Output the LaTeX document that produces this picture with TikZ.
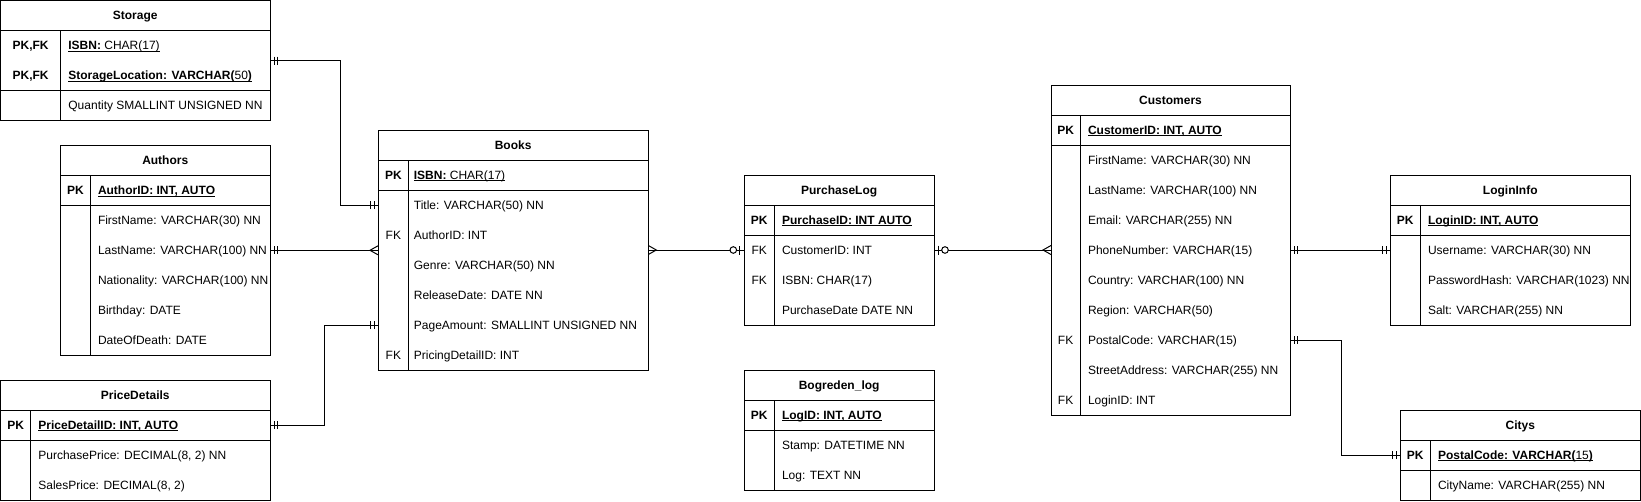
\documentclass[tikz,border=0pt]{standalone}
\usepackage{fontspec}
\setmainfont{Liberation Sans}
\newcommand{\ulin}[1]{\setbox0=\hbox{#1}\rlap{\rule[-1.8pt]{\wd0}{0.8pt}}\box0}
\newcommand{\ertable}[8]{%
  \def\erx{#2}\def\ery{#3}\def\erkw{#5}%
  \pgfmathsetmacro{\erH}{30*(1+#7+#8)}%
  \node[tbl, minimum width=#4pt, minimum height=\erH pt] (#1) at (#2,#3) {};
  \node[ttl] (#1-title) at ({#2+#4/2},{#3+15}) {#6};
  \draw[tline] (#2,{#3+30}) -- ++(#4,0);
  \draw[tline] (#2,{#3+30+30*#7}) -- ++(#4,0);
  \draw[tline] ({#2+#5},{#3+30}) -- ++(0,{\erH-30});
}
\newcommand{\errow}[4]{%
  \if\relax\detokenize{#3}\relax\else
    \node[keyt] (#1-key) at ({\erx+\erkw/2},{\ery+30*#2+15}) {#3};
  \fi
  \node[attr] (#1) at ({\erx+\erkw+\eroff},{\ery+30*#2+15}) {#4};
}
\tikzset{
  tbl/.style={draw, line width=1pt, inner sep=0pt, outer sep=0pt, anchor=north west},
  tline/.style={line width=1pt},
  ttl/.style={font=\fontsize{12}{14}\selectfont\bfseries, inner sep=0pt, text height=8.6pt, text depth=0pt},
  keyt/.style={font=\fontsize{12}{14}\selectfont, inner sep=0pt, text height=8.6pt, text depth=0pt},
  attr/.style={font=\fontsize{12}{14}\selectfont, inner sep=0pt, text height=8.6pt, text depth=0pt, anchor=west},
  rel/.style={line width=1pt},
  mandone/.pic={\draw[line width=1pt] (4,-4) -- (4,4) (7.5,-4) -- (7.5,4);},
  zeroone/.pic={\draw[line width=1pt] (4.5,-4.5) -- (4.5,4.5); \draw[line width=1pt, fill=white] (11,0) circle (3.3pt);},
  crowfoot/.pic={\draw[line width=1pt] (0,-4.5) -- (8,0) -- (0,4.5);},
}
\begin{document}
\begin{tikzpicture}[x=1pt,y=-1pt]
\useasboundingbox (0,0) rectangle (1641,501);
\def\eroff{7.5}
% Storage
\ertable{storage}{0.5}{0.5}{269.5}{60.2}{Storage}{2}{1}
\errow{st-isbn}{1}{\textbf{PK,FK}}{\ulin{\textbf{ISBN:} CHAR(17)}}
\errow{st-loc}{2}{\textbf{PK,FK}}{\ulin{\textbf{StorageLocation: VARCHAR(}50\textbf{)}}}
\errow{st-qty}{3}{}{Quantity SMALLINT UNSIGNED NN}
% Authors
\ertable{authors}{60.5}{145.3}{209.5}{29.8}{Authors}{1}{5}
\errow{au-id}{1}{\textbf{PK}}{\ulin{\textbf{AuthorID: INT, AUTO}}}
\errow{au-first}{2}{}{FirstName: VARCHAR(30) NN}
\errow{au-last}{3}{}{LastName: VARCHAR(100) NN}
\errow{au-nat}{4}{}{Nationality: VARCHAR(100) NN}
\errow{au-birth}{5}{}{Birthday: DATE}
\errow{au-death}{6}{}{DateOfDeath: DATE}
% PriceDetails
\ertable{pricedetails}{0.5}{380}{269.5}{30.2}{PriceDetails}{1}{2}
\errow{pd-id}{1}{\textbf{PK}}{\ulin{\textbf{PriceDetailID: INT, AUTO}}}
\errow{pd-purch}{2}{}{PurchasePrice: DECIMAL(8, 2) NN}
\errow{pd-sales}{3}{}{SalesPrice: DECIMAL(8, 2)}
% Books
\def\eroff{5}
\ertable{books}{378}{130}{270.3}{30.7}{Books}{1}{6}
\errow{bk-isbn}{1}{\textbf{PK}}{\ulin{\textbf{ISBN:} CHAR(17)}}
\errow{bk-title}{2}{}{Title: VARCHAR(50) NN}
\errow{bk-author}{3}{FK}{AuthorID: INT}
\errow{bk-genre}{4}{}{Genre: VARCHAR(50) NN}
\errow{bk-release}{5}{}{ReleaseDate: DATE NN}
\errow{bk-page}{6}{}{PageAmount: SMALLINT UNSIGNED NN}
\errow{bk-pricing}{7}{FK}{PricingDetailID: INT}
\def\eroff{7.5}
% PurchaseLog
\ertable{purchaselog}{744.3}{175}{189.7}{30}{PurchaseLog}{1}{3}
\errow{pl-id}{1}{\textbf{PK}}{\ulin{\textbf{PurchaseID: INT AUTO}}}
\errow{pl-cust}{2}{FK}{CustomerID: INT}
\errow{pl-isbn}{3}{FK}{ISBN: CHAR(17)}
\errow{pl-date}{4}{}{PurchaseDate DATE NN}
% Bogreden_log
\ertable{bogreden}{744.3}{370}{189.7}{30}{Bogreden\_log}{1}{2}
\errow{bl-id}{1}{\textbf{PK}}{\ulin{\textbf{LogID: INT, AUTO}}}
\errow{bl-stamp}{2}{}{Stamp: DATETIME NN}
\errow{bl-log}{3}{}{Log: TEXT NN}
% Customers
\ertable{customers}{1051}{85}{239}{29.3}{Customers}{1}{9}
\errow{cu-id}{1}{\textbf{PK}}{\ulin{\textbf{CustomerID: INT, AUTO}}}
\errow{cu-first}{2}{}{FirstName: VARCHAR(30) NN}
\errow{cu-last}{3}{}{LastName: VARCHAR(100) NN}
\errow{cu-email}{4}{}{Email: VARCHAR(255) NN}
\errow{cu-phone}{5}{}{PhoneNumber: VARCHAR(15)}
\errow{cu-country}{6}{}{Country: VARCHAR(100) NN}
\errow{cu-region}{7}{}{Region: VARCHAR(50)}
\errow{cu-postal}{8}{FK}{PostalCode: VARCHAR(15)}
\errow{cu-street}{9}{}{StreetAddress: VARCHAR(255) NN}
\errow{cu-login}{10}{FK}{LoginID: INT}
% LoginInfo
\ertable{logininfo}{1390.3}{175}{240}{30}{LoginInfo}{1}{3}
\errow{li-id}{1}{\textbf{PK}}{\ulin{\textbf{LoginID: INT, AUTO}}}
\errow{li-user}{2}{}{Username: VARCHAR(30) NN}
\errow{li-hash}{3}{}{PasswordHash: VARCHAR(1023) NN}
\errow{li-salt}{4}{}{Salt: VARCHAR(255) NN}
% Citys
\ertable{citys}{1400.3}{410}{240}{30}{Citys}{1}{1}
\errow{ci-id}{1}{\textbf{PK}}{\ulin{\textbf{PostalCode: VARCHAR(}15\textbf{)}}}
\errow{ci-name}{2}{}{CityName: VARCHAR(255) NN}
% Connectors
\draw[rel] (storage.east) -- ++(70.7,0) |- (books.west |- bk-title);
\pic at (storage.east) {mandone};
\pic[rotate=180] at (books.west |- bk-title) {mandone};

\draw[rel] (authors.east |- au-last) -- (books.west |- au-last);
\pic at (authors.east |- au-last) {mandone};
\pic[rotate=180] at (books.west |- au-last) {crowfoot};

\draw[rel] (pricedetails.east |- pd-id) -- ++(54,0) |- (books.west |- bk-page);
\pic at (pricedetails.east |- pd-id) {mandone};
\pic[rotate=180] at (books.west |- bk-page) {mandone};

\draw[rel] (books.east |- pl-cust) -- (purchaselog.west |- pl-cust);
\pic at (books.east |- pl-cust) {crowfoot};
\pic[rotate=180] at (purchaselog.west |- pl-cust) {zeroone};

\draw[rel] (purchaselog.east |- pl-cust) -- (customers.west |- pl-cust);
\pic at (purchaselog.east |- pl-cust) {zeroone};
\pic[rotate=180] at (customers.west |- pl-cust) {crowfoot};

\draw[rel] (customers.east |- cu-phone) -- (logininfo.west |- cu-phone);
\pic at (customers.east |- cu-phone) {mandone};
\pic[rotate=180] at (logininfo.west |- cu-phone) {mandone};

\draw[rel] (customers.east |- cu-postal) -- ++(51,0) |- (citys.west |- ci-id);
\pic at (customers.east |- cu-postal) {mandone};
\pic[rotate=180] at (citys.west |- ci-id) {mandone};
\end{tikzpicture}
\end{document}
